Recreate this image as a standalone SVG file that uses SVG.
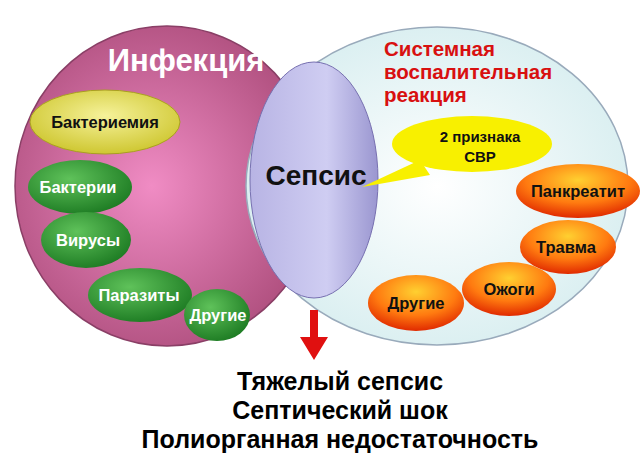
<svg xmlns="http://www.w3.org/2000/svg" width="640" height="469" viewBox="0 0 640 469">
<defs>
<radialGradient id="gPink" cx="0.45" cy="0.5" r="0.55"><stop offset="0" stop-color="#f08cc4"/><stop offset="1" stop-color="#b0507f"/></radialGradient>
<radialGradient id="gBlue" cx="0.5" cy="0.5" r="0.55"><stop offset="0" stop-color="#ffffff"/><stop offset="1" stop-color="#d8eef0"/></radialGradient>
<linearGradient id="gSep" x1="0" y1="0" x2="1" y2="0"><stop offset="0" stop-color="#b8b4e4"/><stop offset="0.6" stop-color="#cfcdf2"/><stop offset="1" stop-color="#9a96d0"/></linearGradient>
<radialGradient id="gGreen" cx="0.4" cy="0.35" r="0.7"><stop offset="0" stop-color="#5fc25a"/><stop offset="1" stop-color="#1c7a22"/></radialGradient>
<radialGradient id="gOrange" cx="0.5" cy="0.3" r="0.7"><stop offset="0" stop-color="#ffd030"/><stop offset="0.6" stop-color="#ff7a10"/><stop offset="1" stop-color="#e02a00"/></radialGradient>
<radialGradient id="gYel" cx="0.5" cy="0.4" r="0.7"><stop offset="0" stop-color="#f6f29a"/><stop offset="1" stop-color="#c8c020"/></radialGradient>
</defs>
<style>
text{font-family:"Liberation Sans",Arial,sans-serif;font-weight:bold;text-anchor:middle}
.w{fill:#fff;font-size:16.5px}
.k{fill:#111;font-size:16.5px}
.s{fill:#111;font-size:15px}
.b{fill:#000;font-size:25px}
</style>
<rect width="640" height="469" fill="#fff"/>
<g id="infection"><ellipse cx="167" cy="186" rx="152" ry="160" fill="url(#gPink)" stroke="#8a3f66" stroke-width="1.5"/>
<text x="186" y="71" fill="#fff" style="font-size:31px">Инфекция</text></g>
<g id="svr"><ellipse cx="437" cy="186" rx="191" ry="159" fill="url(#gBlue)" stroke="#9ab" stroke-width="1.5"/>
<text x="384" y="56" fill="#d81010" style="font-size:20.5px;text-anchor:start">Системная</text>
<text x="384" y="79" fill="#d81010" style="font-size:20.5px;text-anchor:start">воспалительная</text>
<text x="384" y="102" fill="#d81010" style="font-size:20.5px;text-anchor:start">реакция</text></g>
<g id="sepsis"><ellipse cx="314" cy="180" rx="64" ry="118" fill="url(#gSep)" stroke="#7770b0" stroke-width="1"/>
<text x="316" y="185" fill="#111" style="font-size:28px">Сепсис</text></g>
<g id="bacteremia"><ellipse cx="105" cy="122" rx="75" ry="32" fill="url(#gYel)" stroke="#a9a020"/><text class="k" x="105" y="128">Бактериемия</text></g>
<g id="bacteria"><ellipse cx="80" cy="187" rx="52" ry="27" fill="url(#gGreen)"/><text class="w" x="78" y="193">Бактерии</text></g>
<g id="viruses"><ellipse cx="86" cy="240" rx="45" ry="28" fill="url(#gGreen)"/><text class="w" x="88" y="246">Вирусы</text></g>
<g id="parasites"><ellipse cx="140" cy="295" rx="52" ry="27" fill="url(#gGreen)"/><text class="w" x="139" y="301">Паразиты</text></g>
<g id="other-inf"><ellipse cx="217" cy="315" rx="33" ry="26" fill="url(#gGreen)"/><text class="w" x="218" y="321">Другие</text></g>
<g id="two-signs"><polygon points="362,187 420,160 430,175" fill="#f8f000"/>
<ellipse cx="472" cy="144" rx="80" ry="28" fill="#f8f000"/>
<text class="s" x="480" y="142">2 признака</text><text class="s" x="480" y="162">СВР</text></g>
<g id="pancreatitis"><ellipse cx="578" cy="191" rx="62" ry="27" fill="url(#gOrange)"/><text class="k" x="578" y="197">Панкреатит</text></g>
<g id="trauma"><ellipse cx="568" cy="247" rx="48" ry="27" fill="url(#gOrange)"/><text class="k" x="566" y="253">Травма</text></g>
<g id="burns"><ellipse cx="509" cy="289" rx="47" ry="27" fill="url(#gOrange)"/><text class="k" x="509" y="295">Ожоги</text></g>
<g id="other-svr"><ellipse cx="416" cy="303" rx="48" ry="28" fill="url(#gOrange)"/><text class="k" x="416" y="309">Другие</text></g>
<g id="connectors"><path d="M310,310 H318 V337 H328 L314,360 L300,337 H310 Z" fill="#e01010"/></g>
<g id="outcomes"><text class="b" x="340" y="390">Тяжелый сепсис</text><text class="b" x="340" y="419">Септический шок</text><text class="b" x="340" y="448">Полиорганная недостаточность</text></g>
</svg>
